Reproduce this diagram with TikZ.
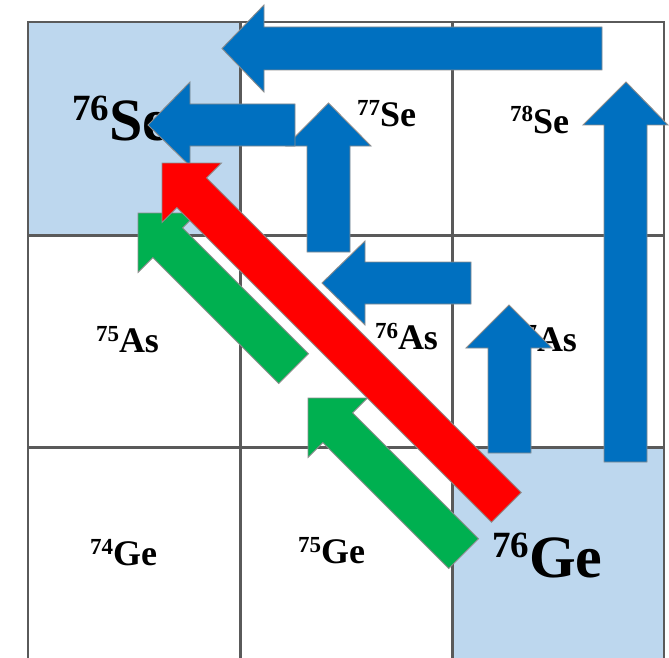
\documentclass[tikz,border=0pt]{standalone}
\usepackage{fontspec}
\setmainfont{Liberation Serif}
\definecolor{cellblue}{HTML}{BDD7EE}
\definecolor{gridgray}{HTML}{5A5A5A}
\definecolor{arrblue}{HTML}{0070C0}
\definecolor{arrgreen}{HTML}{00B050}
\definecolor{arrred}{HTML}{FF0000}
\definecolor{edgegray}{HTML}{8C8C8C}
\newcommand\smalliso[2]{\bfseries{\fontsize{23}{23}\selectfont\raisebox{11pt}{#1}}{\fontsize{36}{36}\selectfont #2}}
\newcommand\bigiso[2]{\bfseries{\fontsize{37}{37}\selectfont\raisebox{19.5pt}{#1}}{\fontsize{60}{60}\selectfont #2}}
% diagonal arrow pointing up-left; tip at (#2,#3), length #4
\newcommand\diagarr[4]{%
  \filldraw[#1] (#2,#3) -- ++(59.4,0) -- ++(-14.85,14.85)
    -- ++({0.7071*(#4-42)},{0.7071*(#4-42)}) -- ++(-29.7,29.7)
    -- ++({-0.7071*(#4-42)},{-0.7071*(#4-42)}) -- ++(-14.85,14.85) -- cycle;}
\tikzset{
  outergrid/.style={draw=gridgray, line width=2.5pt},
  innergrid/.style={draw=gridgray, line width=3pt},
  isolabel/.style={anchor=base west, inner sep=0pt, outer sep=0pt, text=black},
  bluearr/.style={fill=arrblue, draw=edgegray, line width=0.9pt, line join=miter},
  greenarr/.style={fill=arrgreen, draw=edgegray, line width=0.9pt, line join=miter},
  redarr/.style={fill=arrred, draw=edgegray, line width=0.9pt, line join=miter},
}
\begin{document}
\begin{tikzpicture}[x=1pt, y=-1pt]
\useasboundingbox (0,0) rectangle (669,658);
\clip (0,0) rectangle (669,658);
\fill[white] (0,0) rectangle (669,658);
% highlighted cells
\fill[cellblue] (28,22) rectangle (240,235);
\fill[cellblue] (452,447) rectangle (664,665);
% grid
\draw[innergrid] (240,22) -- (240,665);
\draw[innergrid] (452,22) -- (452,665);
\draw[innergrid] (28,235) -- (664,235);
\draw[innergrid] (28,447) -- (664,447);
\draw[outergrid] (28,665) -- (28,22) -- (664,22) -- (664,665);
% labels
\node[isolabel] (se76) at (72,140) {\bigiso{76}{Se}};
\node[isolabel] (se77) at (357,127) {\smalliso{77}{Se}};
\node[isolabel] (se78) at (510,133) {\smalliso{78}{Se}};
\node[isolabel] (as75) at (96,352) {\smalliso{75}{As}};
\node[isolabel] (as76) at (375,349) {\smalliso{76}{As}};
\node[isolabel] (as77) at (514,351) {\smalliso{77}{As}};
\node[isolabel] (ge74) at (90,565) {\smalliso{74}{Ge}};
\node[isolabel] (ge75) at (298,563) {\smalliso{75}{Ge}};
\node[isolabel] (ge76) at (492,577) {\bigiso{76}{Ge}};
% blue arrows
\filldraw[bluearr] (222,48.5) -- (264,5) -- (264,27) -- (602,27) -- (602,70) -- (264,70) -- (264,92) -- cycle;
\filldraw[bluearr] (626,82) -- (668,125) -- (647,125) -- (647,462) -- (604,462) -- (604,125) -- (583,125) -- cycle;
\filldraw[bluearr] (328.5,103) -- (371,146) -- (350,146) -- (350,252) -- (307,252) -- (307,146) -- (286,146) -- cycle;
\filldraw[bluearr] (148,125) -- (190,82) -- (190,104) -- (295,104) -- (295,146) -- (190,146) -- (190,166) -- cycle;
\filldraw[bluearr] (322,283) -- (365,241) -- (365,262) -- (471,262) -- (471,304) -- (365,304) -- (365,325) -- cycle;
\filldraw[bluearr] (509,305) -- (552,348) -- (531,348) -- (531,453) -- (488,453) -- (488,348) -- (466,348) -- cycle;
% green and red arrows
\diagarr{greenarr}{138}{213}{220}
\diagarr{greenarr}{308}{398}{220}
\diagarr{redarr}{162}{163}{487}
\end{tikzpicture}
\end{document}
